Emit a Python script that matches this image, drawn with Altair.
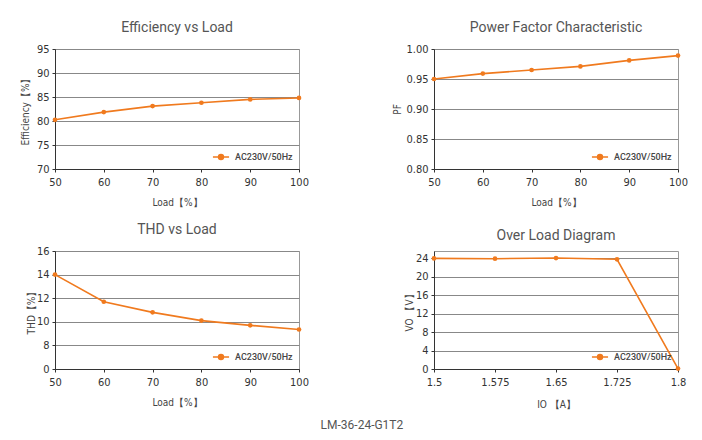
import altair as alt
import pandas as pd

# values
LOAD = [50, 60, 70, 80, 90, 100]
EFFICIENCY = [80.25, 81.85, 83.1, 83.8, 84.5, 84.8]
POWER_FACTOR = [0.950, 0.959, 0.965, 0.971, 0.981, 0.989]
THD = [14.0, 11.7, 10.8, 10.1, 9.7, 9.35]
IO = [1.5, 1.575, 1.65, 1.725, 1.8]
VO = [24.0, 23.93, 24.07, 23.8, 0.1]
SERIES = "AC230V/50Hz"
FOOTER = "LM-36-24-G1T2"

ORANGE = "#F07A1E"
TICK_FONT = "Liberation Sans Narrow, DejaVu Sans Condensed, sans-serif"
TITLE_FONT = "Roboto, Lato, sans-serif"

# line with a dot in the middle, for the legend symbol
LEGEND_SYMBOL = "M-1,0L1,0M-0.3,0A0.3,0.3 0 1,1 0.3,0A0.3,0.3 0 1,1 -0.3,0Z"


def make_panel(data: pd.DataFrame, x_field: str, y_field: str, title: str,
               x_axis: alt.Axis, y_axis: alt.Axis,
               x_scale: alt.Scale, y_scale: alt.Scale,
               height: int) -> alt.Chart:
    """One small line chart with its in-plot legend"""
    return alt.Chart(data).mark_line(
        strokeWidth=1.6,
        point=alt.OverlayMarkDef(size=22, filled=True, color=ORANGE, opacity=1),
    ).encode(
        x=alt.X(f"{x_field}:Q", scale=x_scale, axis=x_axis),
        y=alt.Y(f"{y_field}:Q", scale=y_scale, axis=y_axis),
        color=alt.Color(
            "series:N",
            scale=alt.Scale(range=[ORANGE]),
            legend=alt.Legend(
                title=None, orient="bottom-right", offset=6,
                symbolType=LEGEND_SYMBOL, symbolSize=260,
                symbolStrokeWidth=1.6, symbolFillColor=ORANGE,
                symbolStrokeColor=ORANGE, symbolOpacity=1,
                labelFont=TITLE_FONT, labelFontSize=9,
                labelFontWeight=500, labelColor="#444", labelOffset=5,
            ),
        ),
    ).properties(
        title=alt.TitleParams(title, fontSize=14, font=TITLE_FONT,
                              fontWeight="normal", color="#555",
                              frame="group", offset=8),
        width=244,
        height=height,
    )


def axis(title: str, title_padding: int, **kwargs) -> alt.Axis:
    return alt.Axis(title=title, titlePadding=title_padding, **kwargs)


load_df = pd.DataFrame({"load": LOAD, "eff": EFFICIENCY, "pf": POWER_FACTOR,
                        "thd": THD, "series": SERIES})
ol_df = pd.DataFrame({"io": IO, "vo": VO, "series": SERIES})

load_axis = dict(values=LOAD, format="d", grid=False)

eff = make_panel(
    load_df, "load", "eff", "Efficiency vs Load",
    axis("Load【%】", 10, **load_axis),
    axis("Efficiency【%】", 6, values=[70, 75, 80, 85, 90, 95]),
    alt.Scale(domain=[50, 100], nice=False),
    alt.Scale(domain=[70, 95], nice=False, zero=False),
    120,
)

pf = make_panel(
    load_df, "load", "pf", "Power Factor Characteristic",
    axis("Load【%】", 10, **load_axis),
    axis("PF", 3, values=[0.80, 0.85, 0.90, 0.95, 1.00], format=".2f"),
    alt.Scale(domain=[50, 100], nice=False),
    alt.Scale(domain=[0.80, 1.00], nice=False, zero=False),
    120,
)

# THD axis is broken: the bottom tick is labelled 0
thd = make_panel(
    load_df, "load", "thd", "THD vs Load",
    axis("Load【%】", 10, **load_axis),
    axis("THD【%】", 0, values=[6, 8, 10, 12, 14, 16],
         labelExpr="datum.value == 6 ? '0' : datum.label"),
    alt.Scale(domain=[50, 100], nice=False),
    alt.Scale(domain=[6, 16], nice=False, zero=False),
    118,
)

overload = make_panel(
    ol_df, "io", "vo", "Over Load Diagram",
    axis("IO 【A】", 12, values=IO, labelExpr="'' + datum.value", grid=False),
    axis("VO 【V】", 1, values=[0, 4, 8, 12, 16, 20, 24]),
    alt.Scale(domain=[1.5, 1.8], nice=False, zero=False),
    alt.Scale(domain=[0, 25.6], nice=False),
    118,
)

chart = alt.concat(
    eff, pf, thd, overload,
    columns=2,
    spacing={"row": 82, "column": 135},
    bounds="flush",
).resolve_legend(
    color="independent",
).resolve_scale(
    color="independent",
).properties(
    title=alt.TitleParams(FOOTER, orient="bottom", anchor="middle",
                          fontSize=12, font=TITLE_FONT, fontWeight="normal",
                          color="#555", offset=10, dx=8),
    padding={"left": 11, "top": 12, "right": 5, "bottom": 5},
).configure_view(
    stroke="#999", strokeWidth=1,
).configure_axis(
    labelFont=TICK_FONT, labelFontSize=11, labelColor="#333",
    titleFont=TICK_FONT, titleFontSize=10, titleColor="#444",
    titleFontWeight="normal", labelFlush=False,
    domainColor="#333", tickColor="#333", tickSize=3, labelPadding=3,
    gridColor="#888", gridWidth=1,
).configure_axisX(
    labelPadding=4,
)

chart.save("out.html", embed_options={"renderer": "svg", "actions": False})
